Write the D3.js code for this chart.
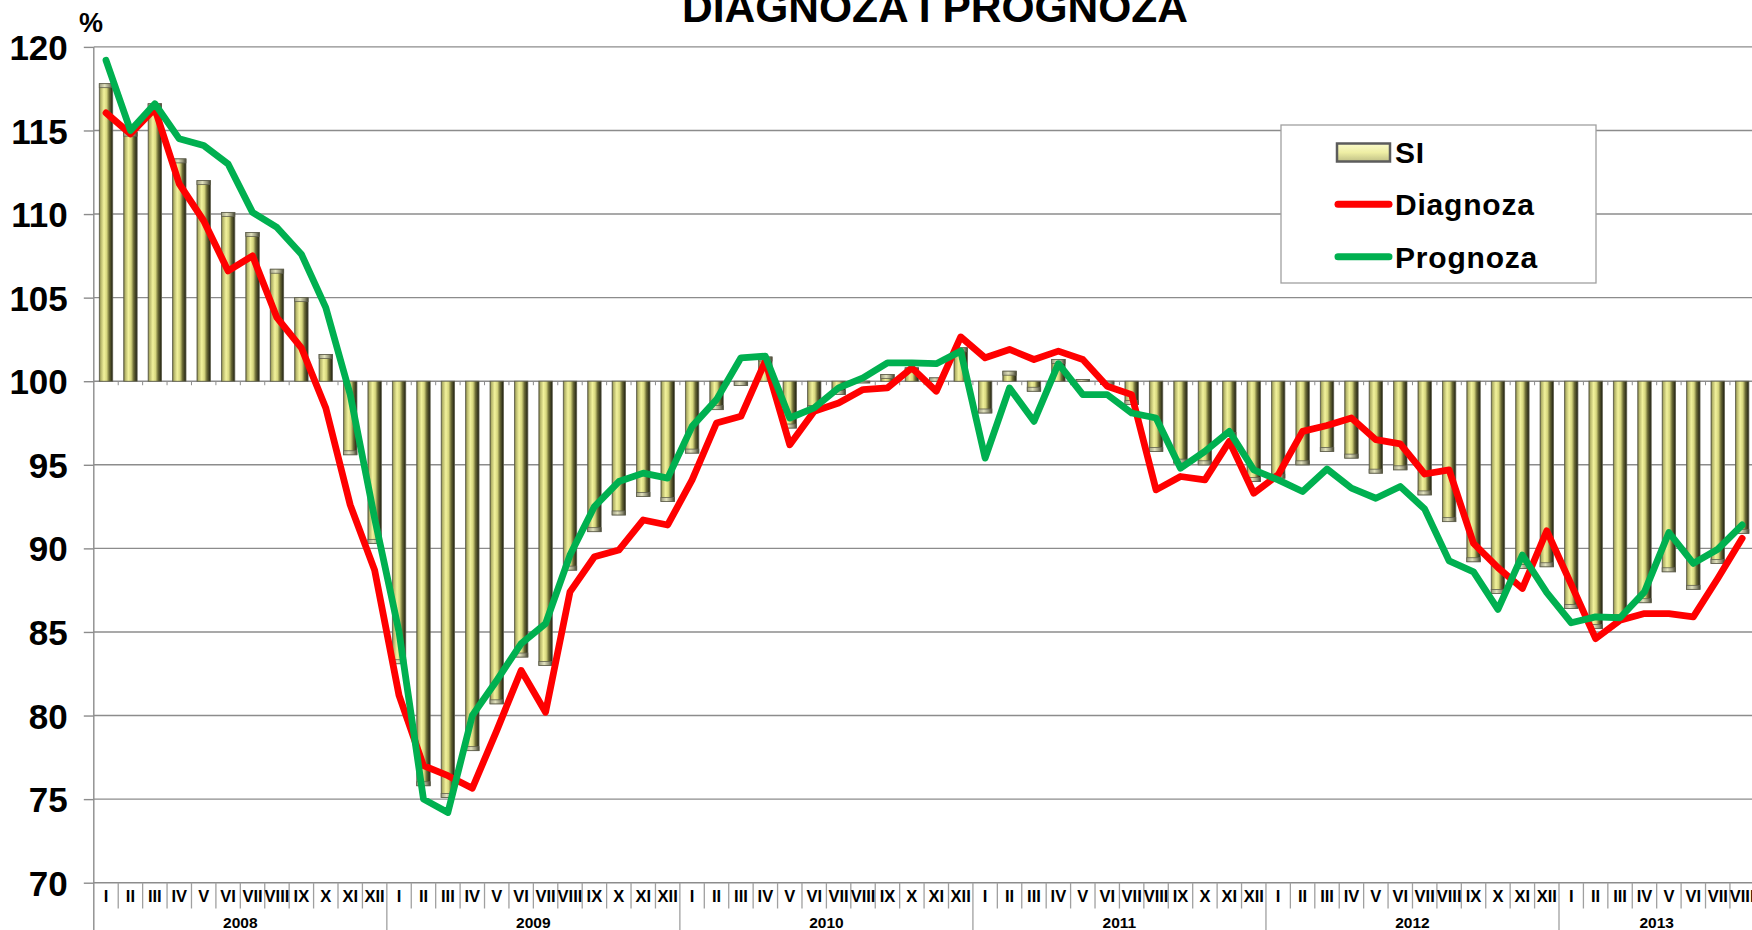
<!DOCTYPE html>
<html>
<head>
<meta charset="utf-8">
<script src="https://cdn.jsdelivr.net/npm/d3@7"></script>
<style>
  html, body { margin: 0; padding: 0; background: #ffffff; }
  svg { display: block; font-family: "Liberation Sans", Arial, sans-serif; font-weight: bold; }
</style>
</head>
<body>
<svg id="chart" width="1752" height="930"></svg>
<script>
// ---- data ---------------------------------------------------------------
const years = ["2008", "2009", "2010", "2011", "2012", "2013"];
const monthNames = ["I", "II", "III", "IV", "V", "VI", "VII", "VIII", "IX", "X", "XI", "XII"];

// SI index (bars, drawn from the 100 baseline)
const siValues = [
  117.8, 114.9, 116.6, 113.3, 112.0, 110.1, 108.9, 106.7, 105.0, 101.6, 95.6, 90.3,
  83.1, 75.8, 75.1, 77.9, 80.7, 83.5, 83.0, 88.7, 91.0, 92.0, 93.1, 92.8,
  95.7, 98.3, 99.75, 101.45, 97.2, 98.3, 99.2, 99.9, 100.4, 100.8, 100.2, 102.0,
  98.1, 100.6, 99.4, 101.3, 100.1, 99.8, 98.6, 95.8, 95.1, 95.0, 96.7, 94.0,
  94.2, 95.0, 95.8, 95.4, 94.5, 94.7, 93.2, 91.6, 89.2, 87.3, 88.8, 88.9,
  86.4, 85.2, 85.8, 86.75, 88.6, 87.55, 89.1, 90.9
];

// Diagnoza (red line)
const diagnozaValues = [
  116.05, 114.8, 116.3, 111.8, 109.6, 106.6, 107.5, 103.8, 102.0, 98.4, 92.6, 88.7,
  81.2, 77.0, 76.4, 75.65, 79.1, 82.7, 80.2, 87.4, 89.5, 89.9, 91.7, 91.4,
  94.1, 97.5, 97.9, 101.2, 96.2, 98.2, 98.7, 99.5, 99.6, 100.8, 99.4, 102.65,
  101.4, 101.9, 101.3, 101.8, 101.3, 99.7, 99.2, 93.5, 94.3, 94.1, 96.4, 93.3,
  94.4, 97.0, 97.35, 97.8, 96.5, 96.25, 94.45, 94.7, 90.3, 88.85, 87.6, 91.05,
  87.85, 84.6, 85.7, 86.1, 86.1, 85.9, 88.2, 90.6
];

// Prognoza (green line)
const prognozaValues = [
  119.2, 115.0, 116.6, 114.5, 114.1, 113.0, 110.1, 109.2, 107.6, 104.4, 99.2, 91.8,
  85.0, 75.0, 74.2, 80.0, 82.1, 84.3, 85.5, 89.6, 92.5, 94.0, 94.5, 94.2,
  97.3, 98.9, 101.4, 101.5, 97.8, 98.4, 99.6, 100.2, 101.1, 101.1, 101.05, 101.8,
  95.4, 99.6, 97.6, 101.05, 99.2, 99.2, 98.1, 97.8, 94.8, 95.8, 97.0, 94.7,
  94.1, 93.4, 94.75, 93.6, 93.0, 93.7, 92.35, 89.25, 88.6, 86.35, 89.6, 87.35,
  85.55, 85.9, 85.85, 87.4, 90.95, 89.1, 89.95, 91.4
];

const yTicks = [70, 75, 80, 85, 90, 95, 100, 105, 110, 115, 120];
const baseline = 100;

const seriesNames = ["SI", "Diagnoza", "Prognoza"];
const seriesColors = { Diagnoza: "#ff0000", Prognoza: "#00b050" };

// ---- layout -------------------------------------------------------------
const W = 1752, H = 930;
const plotLeft = 93.8, step = 24.42;
const plotTop = 46.9, plotBottom = 882.7;
const n = siValues.length;
const plotRight = plotLeft + n * step;

const categories = d3.range(n).map(i => ({
  i,
  month: monthNames[i % 12],
  year: years[Math.floor(i / 12)]
}));

const svg = d3.select("#chart");

const x = d3.scaleBand().domain(d3.range(n)).range([plotLeft, plotRight]).padding(0);
const y = d3.scaleLinear().domain([70, 120]).range([plotBottom, plotTop]);
const cx = i => x(i) + x.bandwidth() / 2;
const barW = x.bandwidth() * 0.55;

// ---- gradients ------------------------------------------------------------
const defs = svg.append("defs");
const barGrad = defs.append("linearGradient").attr("id", "barGrad")
  .attr("x1", "0").attr("y1", "0").attr("x2", "1").attr("y2", "0");
[["0", "#5e5e32"], ["0.1", "#b2b268"], ["0.35", "#f2f29c"], ["0.55", "#d6d67e"],
 ["0.74", "#6c6c36"], ["1", "#1c1c10"]].forEach(([o, c]) =>
  barGrad.append("stop").attr("offset", o).attr("stop-color", c));

const capGrad = defs.append("linearGradient").attr("id", "capGrad")
  .attr("x1", "0").attr("y1", "0").attr("x2", "1").attr("y2", "0");
[["0", "#9a9a80"], ["0.4", "#e2e2be"], ["0.75", "#949478"], ["1", "#404030"]].forEach(([o, c]) =>
  capGrad.append("stop").attr("offset", o).attr("stop-color", c));

const legGrad = defs.append("linearGradient").attr("id", "legGrad")
  .attr("x1", "0").attr("y1", "0").attr("x2", "0").attr("y2", "1");
[["0", "#fbfbcc"], ["0.5", "#eeeea4"], ["1", "#c0c086"]].forEach(([o, c]) =>
  legGrad.append("stop").attr("offset", o).attr("stop-color", c));

// ---- title ------------------------------------------------------------------
svg.append("text")
  .attr("x", 935).attr("y", 22)
  .attr("text-anchor", "middle")
  .attr("font-size", 42.5)
  .attr("fill", "#000")
  .text("DIAGNOZA I PROGNOZA");

svg.append("text")
  .attr("x", 79).attr("y", 32)
  .attr("font-size", 27)
  .attr("fill", "#000")
  .text("%");

// ---- gridlines ----------------------------------------------------------------
const gridColor = "#8c8c8c";
svg.append("g").selectAll("line")
  .data(yTicks)
  .join("line")
  .attr("x1", plotLeft).attr("x2", W)
  .attr("y1", d => y(d)).attr("y2", d => y(d))
  .attr("stroke", gridColor).attr("stroke-width", 1.4);

// small ticks hanging from the 100 line at category boundaries
svg.append("g").selectAll("line")
  .data(d3.range(1, n))
  .join("line")
  .attr("x1", i => x(i)).attr("x2", i => x(i))
  .attr("y1", y(baseline)).attr("y2", y(baseline) + 4)
  .attr("stroke", gridColor).attr("stroke-width", 1);

// ---- bars -------------------------------------------------------------------
const barsG = svg.append("g");
const bar = barsG.selectAll("g")
  .data(siValues.map((v, i) => ({ v, i })))
  .join("g");

bar.append("rect")
  .attr("x", d => cx(d.i) - barW / 2)
  .attr("width", barW)
  .attr("y", d => Math.min(y(d.v), y(baseline)))
  .attr("height", d => Math.abs(y(d.v) - y(baseline)))
  .attr("fill", "url(#barGrad)")
  .attr("stroke", "#60604e")
  .attr("stroke-width", 0.8);

// bevelled end cap of each bar
bar.append("rect")
  .attr("x", d => cx(d.i) - barW / 2)
  .attr("width", barW)
  .attr("y", d => {
    const h = Math.min(4, Math.abs(y(d.v) - y(baseline)));
    return d.v >= baseline ? y(d.v) : y(d.v) - h;
  })
  .attr("height", d => Math.min(4, Math.abs(y(d.v) - y(baseline))))
  .attr("fill", "url(#capGrad)")
  .attr("stroke", "#60604e")
  .attr("stroke-width", 0.8);

// ---- y axis -------------------------------------------------------------------
const yAxis = d3.axisLeft(y).tickValues(yTicks).tickSize(10).tickPadding(16);
const yAxisG = svg.append("g")
  .attr("transform", `translate(${plotLeft},0)`)
  .call(yAxis);
yAxisG.select(".domain").remove();
yAxisG.selectAll(".tick line").attr("stroke", gridColor).attr("stroke-width", 1.4);
yAxisG.selectAll(".tick text")
  .attr("font-size", 35)
  .attr("font-weight", "bold")
  .attr("font-family", "Liberation Sans, Arial, sans-serif")
  .attr("fill", "#000")
  .attr("dy", "0.36em");

// vertical axis line, running down through the category labels
svg.append("line")
  .attr("x1", plotLeft).attr("x2", plotLeft)
  .attr("y1", plotTop).attr("y2", H)
  .attr("stroke", gridColor).attr("stroke-width", 1.4);

// ---- category axis --------------------------------------------------------------
const catG = svg.append("g");
catG.selectAll("line.sep")
  .data(d3.range(1, n + 1))
  .join("line")
  .attr("class", "sep")
  .attr("x1", i => plotLeft + i * step).attr("x2", i => plotLeft + i * step)
  .attr("y1", plotBottom)
  .attr("y2", i => (i % 12 === 0 ? H : 908.5))
  .attr("stroke", "#a0a0a0").attr("stroke-width", 1.3);

catG.selectAll("text.month")
  .data(categories)
  .join("text")
  .attr("class", "month")
  .attr("x", d => cx(d.i))
  .attr("y", 902)
  .attr("text-anchor", "middle")
  .attr("font-size", 16.5)
  .attr("fill", "#000")
  .text(d => d.month);

catG.selectAll("text.year")
  .data(years)
  .join("text")
  .attr("class", "year")
  .attr("x", (d, k) => {
    const first = k * 12;
    return (x(first) + x(Math.min(first + 11, n - 1)) + x.bandwidth()) / 2;
  })
  .attr("y", 928)
  .attr("text-anchor", "middle")
  .attr("font-size", 15.5)
  .attr("fill", "#000")
  .text(d => d);

// ---- lines --------------------------------------------------------------------
const line = d3.line().x((d, i) => cx(i)).y(d => y(d));

svg.append("path")
  .datum(diagnozaValues)
  .attr("d", line)
  .attr("fill", "none")
  .attr("stroke", seriesColors.Diagnoza)
  .attr("stroke-width", 6.8)
  .attr("stroke-linejoin", "round")
  .attr("stroke-linecap", "round");

svg.append("path")
  .datum(prognozaValues)
  .attr("d", line)
  .attr("fill", "none")
  .attr("stroke", seriesColors.Prognoza)
  .attr("stroke-width", 6.8)
  .attr("stroke-linejoin", "round")
  .attr("stroke-linecap", "round");

// ---- legend -------------------------------------------------------------------
const leg = svg.append("g");
leg.append("rect")
  .attr("x", 1281).attr("y", 125).attr("width", 315).attr("height", 158)
  .attr("fill", "#fff").attr("stroke", "#a0a0a0").attr("stroke-width", 1.3);

const legRows = [
  { name: seriesNames[0], cy: 152.5, base: 162.7 },
  { name: seriesNames[1], cy: 204.3, base: 215 },
  { name: seriesNames[2], cy: 256.7, base: 268.3 }
];

leg.append("rect")
  .attr("x", 1337).attr("y", legRows[0].cy - 9)
  .attr("width", 53).attr("height", 18)
  .attr("fill", "url(#legGrad)")
  .attr("stroke", "#5c5c5c").attr("stroke-width", 2.5);

legRows.slice(1).forEach(r => {
  leg.append("line")
    .attr("x1", 1338).attr("x2", 1389)
    .attr("y1", r.cy).attr("y2", r.cy)
    .attr("stroke", seriesColors[r.name])
    .attr("stroke-width", 7)
    .attr("stroke-linecap", "round");
});

leg.selectAll("text")
  .data(legRows)
  .join("text")
  .attr("x", 1395)
  .attr("y", d => d.base)
  .attr("font-size", 30)
  .attr("letter-spacing", 0.8)
  .attr("fill", "#000")
  .text(d => d.name);
</script>
</body>
</html>
